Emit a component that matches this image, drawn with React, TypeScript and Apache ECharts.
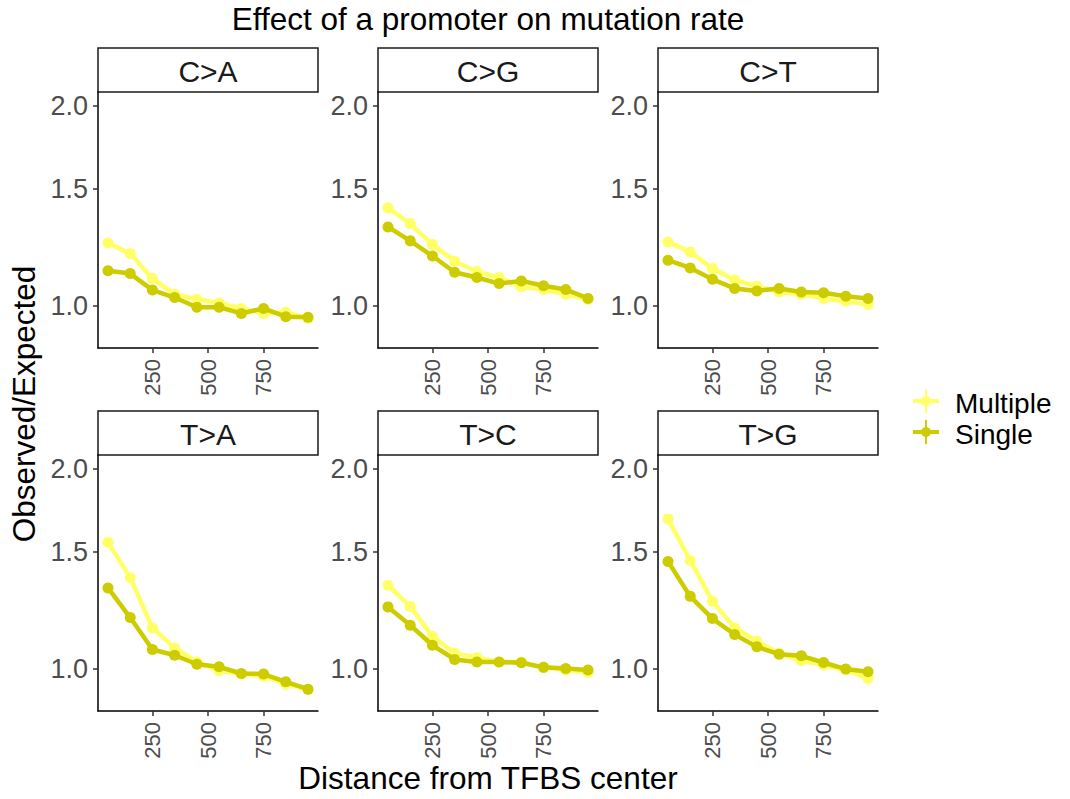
import React, { useEffect, useRef } from "react";
import * as echarts from "echarts";

const distances = [50, 150, 250, 350, 450, 550, 650, 750, 850, 950];
const panels = ["C>A", "C>G", "C>T", "T>A", "T>C", "T>G"];
const groups = ["Multiple", "Single"];
const groupColors = ["#ffff66", "#cccc00"];

const multipleCA = [1.244, 1.199, 1.1, 1.042, 1.024, 1.011, 0.992, 0.975, 0.979, 0.958];
const singleCA = [1.13, 1.119, 1.057, 1.03, 0.996, 0.996, 0.975, 0.992, 0.964, 0.962];
const multipleCG = [1.405, 1.33, 1.237, 1.168, 1.126, 1.104, 1.069, 1.059, 1.042, 1.023];
const singleCG = [1.315, 1.253, 1.189, 1.124, 1.104, 1.081, 1.091, 1.073, 1.059, 1.027];
const multipleCT = [1.248, 1.206, 1.139, 1.094, 1.071, 1.05, 1.042, 1.027, 1.017, 1.006];
const singleCT = [1.172, 1.141, 1.097, 1.063, 1.054, 1.063, 1.05, 1.047, 1.035, 1.027];
const multipleTA = [1.551, 1.372, 1.153, 1.076, 1.025, 0.994, 0.983, 0.976, 0.95, 0.932];
const singleTA = [1.324, 1.195, 1.07, 1.049, 1.017, 1.008, 0.985, 0.983, 0.957, 0.933];
const multipleTC = [1.336, 1.242, 1.12, 1.056, 1.041, 1.025, 1.025, 1.006, 0.997, 0.989];
const singleTC = [1.24, 1.164, 1.086, 1.034, 1.025, 1.025, 1.022, 1.006, 1.002, 0.997];
const multipleTG = [1.681, 1.456, 1.264, 1.153, 1.101, 1.056, 1.029, 1.014, 0.997, 0.968];
const singleTG = [1.451, 1.286, 1.191, 1.127, 1.08, 1.053, 1.047, 1.023, 1.0, 0.991];

const multipleByPanel = [multipleCA, multipleCG, multipleCT, multipleTA, multipleTC, multipleTG];
const singleByPanel = [singleCA, singleCG, singleCT, singleTA, singleTC, singleTG];

const xTicks = [250, 500, 750];
const yTicks = [1.0, 1.5, 2.0];

const titleText = "Effect of a promoter on mutation rate";
const xTitle = "Distance from TFBS center";
const yTitle = "Observed/Expected";

const FONT = "'Liberation Sans', Arial, Helvetica, sans-serif";

export default function App() {
  const ref = useRef<HTMLDivElement>(null);

  useEffect(() => {
    if (!ref.current) return;
    const chart = echarts.init(ref.current, undefined, { renderer: "svg" });

    const colLeft = [98, 378, 658];
    const rowTop = [92, 455];
    const pw = 220;
    const ph = 256;
    const stripH = 44;

    const grids: any[] = [];
    const xAxes: any[] = [];
    const yAxes: any[] = [];
    const series: any[] = [];
    const graphics: any[] = [];

    panels.forEach((name, i) => {
      const c = i % 3;
      const r = Math.floor(i / 3);
      grids.push({
        left: colLeft[c],
        top: rowTop[r],
        width: pw,
        height: ph,
        containLabel: false,
        outerBoundsMode: "none",
      });
      xAxes.push({
        type: "value",
        gridIndex: i,
        min: 5,
        max: 995,
        axisLine: { show: true, onZero: false, lineStyle: { color: "#000", width: 1.5 } },
        axisTick: { show: true, length: 5, customValues: xTicks, lineStyle: { color: "#333", width: 1.5 } },
        axisLabel: {
          show: true,
          customValues: xTicks,
          rotate: 90,
          margin: 11,
          fontSize: 22,
          color: "#4d4d4d",
          fontFamily: FONT,
        },
        splitLine: { show: false },
      });
      yAxes.push({
        type: "value",
        gridIndex: i,
        min: -0.209,
        max: 1.068,
        axisLine: { show: true, onZero: false, lineStyle: { color: "#000", width: 1.5 } },
        axisTick: {
          show: true,
          length: 5,
          customValues: yTicks.map((v) => Math.log2(v)),
          lineStyle: { color: "#333", width: 1.5 },
        },
        axisLabel: {
          show: true,
          customValues: yTicks.map((v) => Math.log2(v)),
          formatter: (v: number) => Math.pow(2, v).toFixed(1),
          margin: 10,
          fontSize: 27,
          color: "#4d4d4d",
          fontFamily: FONT,
        },
        splitLine: { show: false },
      });
      const dataSets = [multipleByPanel[i], singleByPanel[i]];
      dataSets.forEach((vals, g) => {
        series.push({
          type: "line",
          name: groups[g],
          xAxisIndex: i,
          yAxisIndex: i,
          data: distances.map((d, k) => [d, Math.log2(vals[k])]),
          symbol: "circle",
          symbolSize: 11,
          showSymbol: true,
          lineStyle: { color: groupColors[g], width: 4.5 },
          itemStyle: { color: groupColors[g] },
          z: 2 + g,
          silent: true,
        });
      });
      graphics.push({
        type: "rect",
        shape: { x: colLeft[c], y: rowTop[r] - stripH, width: pw, height: stripH },
        style: { fill: "#fff", stroke: "#1a1a1a", lineWidth: 1.5 },
      });
      graphics.push({
        type: "text",
        x: colLeft[c] + pw / 2,
        y: rowTop[r] - stripH / 2 + 1,
        style: {
          text: name,
          fontSize: 30,
          fontFamily: FONT,
          fill: "#1a1a1a",
          align: "center",
          verticalAlign: "middle",
        },
      });
    });

    graphics.push({
      type: "text",
      x: 488,
      y: 19,
      style: { text: titleText, fontSize: 31.5, fontFamily: FONT, fill: "#000", align: "center", verticalAlign: "middle" },
    });
    graphics.push({
      type: "text",
      x: 488,
      y: 778,
      style: { text: xTitle, fontSize: 31.5, fontFamily: FONT, fill: "#000", align: "center", verticalAlign: "middle" },
    });
    graphics.push({
      type: "text",
      x: 24,
      y: 404,
      rotation: Math.PI / 2,
      style: { text: yTitle, fontSize: 31.5, fontFamily: FONT, fill: "#000", align: "center", verticalAlign: "middle" },
    });

    const legendY = [401, 432];
    groups.forEach((g, k) => {
      const y = legendY[k];
      graphics.push({
        type: "line",
        shape: { x1: 913, y1: y, x2: 939, y2: y },
        style: { stroke: groupColors[k], lineWidth: 4 },
      });
      graphics.push({
        type: "line",
        shape: { x1: 926, y1: y - 12, x2: 926, y2: y + 12 },
        style: { stroke: groupColors[k], lineWidth: 2 },
      });
      graphics.push({
        type: "circle",
        shape: { cx: 926, cy: y, r: 5 },
        style: { fill: groupColors[k] },
      });
      graphics.push({
        type: "text",
        x: 955,
        y: y + 2,
        style: { text: g, fontSize: 28, fontFamily: FONT, fill: "#000", align: "left", verticalAlign: "middle" },
      });
    });

    chart.setOption({
      animation: false,
      backgroundColor: "#fff",
      grid: grids,
      xAxis: xAxes,
      yAxis: yAxes,
      series,
      graphic: graphics,
    });

    return () => {
      chart.dispose();
    };
  }, []);

  return (
    <div
      ref={ref}
      style={{ position: "fixed", left: 0, top: 0, width: 1070, height: 799 }}
    />
  );
}
